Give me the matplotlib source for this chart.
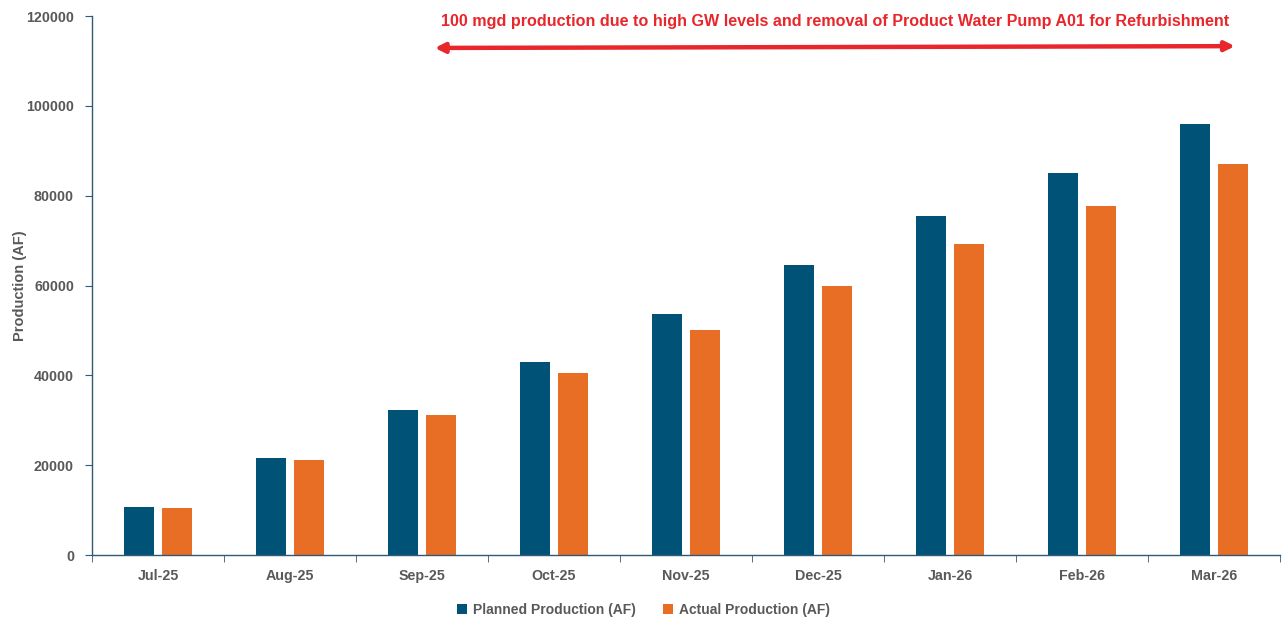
import matplotlib.pyplot as plt
import numpy as np

months = ["Jul-25", "Aug-25", "Sep-25", "Oct-25", "Nov-25", "Dec-25", "Jan-26", "Feb-26", "Mar-26"]
planned = [10700, 21600, 32300, 43000, 53700, 64600, 75500, 85100, 96000]
actual = [10400, 21200, 31100, 40500, 50100, 59900, 69300, 77700, 87100]
yticks = [0, 20000, 40000, 60000, 80000, 100000, 120000]
note = "100 mgd production due to high GW levels and removal of Product Water Pump A01 for Refurbishment"

plt.rcParams['font.family'] = ['Liberation Sans', 'DejaVu Sans']

fig = plt.figure(figsize=(12.87, 6.22), dpi=100)
ax = fig.add_axes([0.0715, 0.1077, 0.923, 0.8665])

x = np.arange(len(months))
w = 0.227
off = 0.144
grey = "#595959"
ax.bar(x - off, planned, w, color="#005377", label="Planned Production (AF)")
ax.bar(x + off, actual, w, color="#E86D25", label="Actual Production (AF)")

ax.set_xlim(-0.5, len(months) - 0.5)
ax.set_ylim(0, 120000)
ax.set_yticks(yticks)
ax.set_yticklabels([str(v) for v in yticks], fontsize=10.3, fontweight='bold', color=grey)
ax.set_xticks(x)
ax.set_xticklabels(months, fontsize=10.3, fontweight='bold', color=grey)
ax.tick_params(axis='x', length=0, pad=10)
ax.set_xticks(np.arange(-0.5, len(months), 1.0), minor=True)
ax.tick_params(axis='x', which='minor', length=5, color="#2E5A7A", direction='out')
ax.tick_params(axis='y', length=5, color="#2E5A7A", direction='out', pad=8)

for s in ['top', 'right']:
    ax.spines[s].set_visible(False)
for s in ['left', 'bottom']:
    ax.spines[s].set_color("#2E5A7A")
    ax.spines[s].set_linewidth(1.0)

ax.set_ylabel("Production (AF)", fontsize=10.5, fontweight='bold', color=grey)
ax.yaxis.set_label_coords(-0.055, 0.5)

ax.annotate("", xy=(2.076, 112900), xytext=(8.18, 113300),
            arrowprops=dict(arrowstyle='<|-|>', color='#E8262B', lw=3.2, mutation_scale=14),
            annotation_clip=False)
ax.text(5.13, 118700, note, ha='center', va='center', fontsize=11.6, fontweight='bold',
        color='#E8262B', clip_on=False)

leg = fig.legend(loc='lower center', bbox_to_anchor=(0.5, -0.012), ncol=2, frameon=False,
                 prop=dict(size=10, weight='bold'),
                 handlelength=0.7, handleheight=0.7, handletextpad=0.4, columnspacing=2.0)
for t in leg.get_texts():
    t.set_color(grey)

fig.savefig("out.png", dpi=100)
